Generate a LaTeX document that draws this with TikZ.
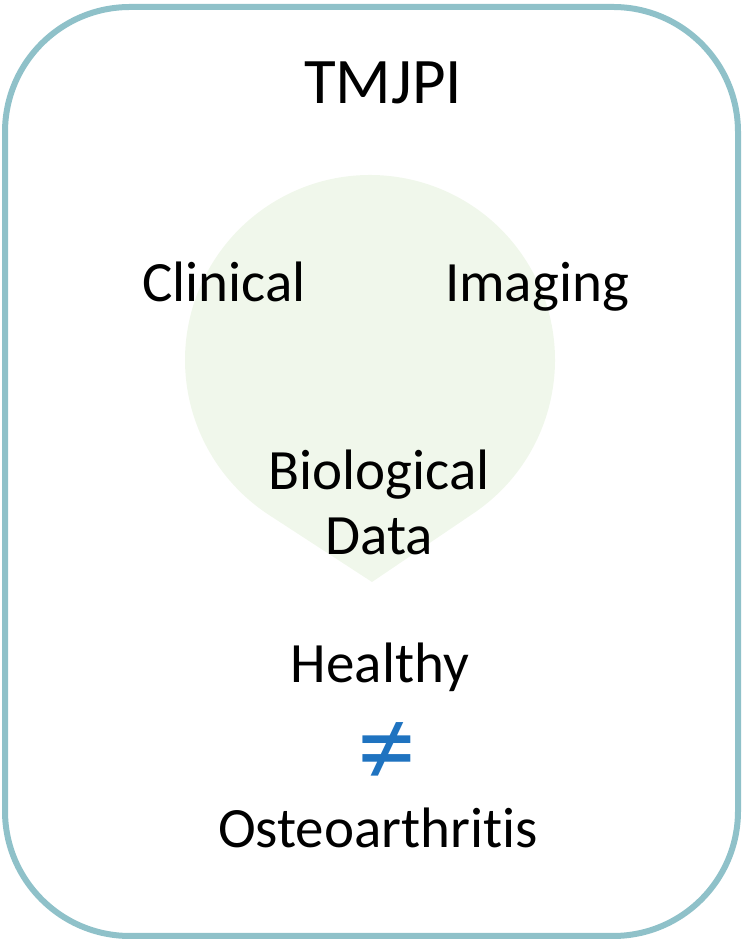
\documentclass[tikz,border=0pt]{standalone}
\usepackage{fontspec}
\setmainfont[Ligatures=NoCommon]{Carlito}
\definecolor{frame}{RGB}{143,193,201}
\definecolor{drop}{RGB}{240,247,235}
\definecolor{neq}{RGB}{31,115,192}
\begin{document}
\begin{tikzpicture}[x=1pt,y=1pt,
  lbl/.style={anchor=base,inner sep=0pt,font=\fontsize{57}{66}\selectfont},
  ttl/.style={anchor=base,inner sep=0pt,font=\fontsize{65}{72}\selectfont}]
\useasboundingbox (0,0) rectangle (747,944);
% frame
\draw[frame,line width=6pt,rounded corners=125pt] (5,937) rectangle (738,8);
% teardrop
\fill[drop] (372,362) -- ([shift={(370,584)}]303.6:185) arc[start angle=303.6,end angle=596.4,radius=185] -- cycle;
% texts
\node[ttl] (title) at (383,840) {TMJPI};
\node[lbl] (clin) at (224,642) {Clinical};
\node[lbl] (img) at (537,642) {Imaging};
\node[lbl] (bio) at (379,454) {Biological};
\node[lbl] (data) at (379,389) {Data};
\node[lbl] (healthy) at (380,261) {Healthy};
\node[inner sep=0pt,text=neq,font=\fontsize{118}{120}\selectfont] (neqsign) at (387,189) {≠};
\node[lbl] (oa) at (378,96) {Osteoarthritis};
\end{tikzpicture}
\end{document}
